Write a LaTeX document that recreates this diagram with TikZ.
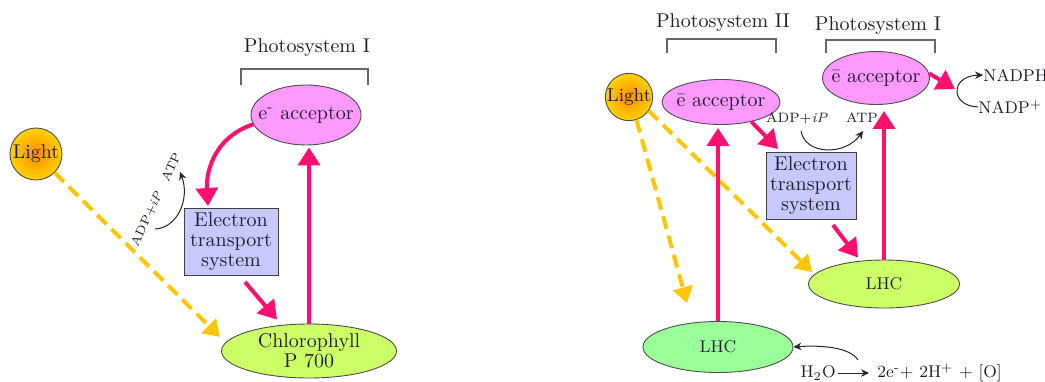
\documentclass[tikz,border=0pt]{standalone}
\usetikzlibrary{arrows.meta,calc,shapes.geometric}
\definecolor{pk}{HTML}{FF0F6E}
\definecolor{yl}{HTML}{FFC500}
\definecolor{mg}{HTML}{FF99FF}
\definecolor{lg}{HTML}{CCFF66}
\definecolor{gr}{HTML}{99FF99}
\definecolor{lv}{HTML}{C8C8FF}
\definecolor{tx}{HTML}{1E1E2E}
\definecolor{sunin}{HTML}{FF8C00}
\definecolor{sunout}{HTML}{FFD200}
\begin{document}
\begin{tikzpicture}[x=0.5pt,y=-0.5pt,
  every node/.style={text=tx, inner sep=0pt, font=\fontsize{10}{10}\selectfont},
  ell/.style={ellipse, draw=black!70, line width=0.45pt},
  acc/.style={ell, fill=mg},
  ets/.style={rectangle, draw=black!75, fill=lv, line width=0.5pt, align=center},
  sun/.style={circle, draw=black!70, line width=0.45pt, inner color=sunin, outer color=sunout},
  small/.style={font=\fontsize{8.5}{10}\selectfont},
  tiny/.style={font=\fontsize{6.8}{8}\selectfont},
  tinier/.style={font=\fontsize{6.2}{7}\selectfont},
  pkarrow/.style={draw=pk, line width=2pt, -{Triangle[length=9pt,width=11pt]}},
  lightarrow/.style={draw=yl, line width=2pt, dash pattern=on 6.5pt off 3.5pt, -{Triangle[length=8pt,width=10pt]}},
  thinarrow/.style={draw=black!85, line width=0.5pt, -{Stealth[length=4pt,width=3.8pt]}},
  bracket/.style={draw=black!60, line width=0.6pt},
]
\useasboundingbox (0,0) rectangle (1045,381);

% ---------------- left panel ----------------
\node[sun, minimum size=26pt] (light1) at (36,154) {Light};
\node (ps1L) at (307,48) {Photosystem I};
\draw[bracket] (241,85) -- (241,69) -- (368,69) -- (368,85);
\node[acc, minimum width=55pt, minimum height=30pt, label={center:e\textsuperscript{-} acceptor}] (acc1) at (306,115) {};
\node[ets, minimum width=47pt, minimum height=33.5pt] (ets1) at (231,242) {Electron\\transport\\system};
\node[ell, fill=lg, minimum width=87.5pt, minimum height=27pt, label={[align=center]center:Chlorophyll\\P 700}] (chl) at (309,351) {};
\node[tinier, rotate=65] (adp1) at (147,219) {ADP+\textit{iP}};
\node[tinier, rotate=65] (atp1) at (171,167) {ATP};
\coordinate (a1s) at (155,229);
\coordinate (a1e) at (180,172);
\draw[thinarrow] (a1s) .. controls (178,228) and (190,198) .. (a1e);

\coordinate (y1) at (220,337);
\draw[lightarrow] (light1.-45) -- (y1);
\draw[pkarrow] (acc1.190) .. controls (212,138) and (206,175) .. ([xshift=-11.5pt,yshift=1pt]ets1.north);
\draw[pkarrow] ([xshift=7pt,yshift=-3pt]ets1.south) -- ([xshift=-16pt,yshift=2pt]chl.north);
\draw[pkarrow, shorten >=1pt] (chl.north) -- (chl.north |- acc1.south);

% ---------------- right panel ----------------
\node (ps2) at (723,23) {Photosystem II};
\draw[bracket] (667,53) -- (667,39) -- (776,39) -- (776,53);
\node (ps1R) at (878,26) {Photosystem I};
\draw[bracket] (826,53) -- (826,40) -- (935,40) -- (935,53);
\node[sun, minimum size=23pt, font=\fontsize{9.3}{10}\selectfont] (light2) at (629,97) {Light};
\node[acc, minimum width=59pt, minimum height=22.5pt, label={center:\=e acceptor}] (acc2) at (721,102) {};
\node[acc, minimum width=53.5pt, minimum height=26.5pt, label={center:\=e acceptor}] (acc3) at (876,78) {};
\node[ets, minimum width=45pt, minimum height=33.5pt] (ets2) at (811,186) {Electron\\transport\\system};
\node[ell, fill=lg, minimum width=75.5pt, minimum height=24pt, label={[small]center:LHC}] (lhc1) at (884,284) {};
\node[ell, fill=gr, minimum width=75pt, minimum height=25.5pt, label={[small]center:LHC}] (lhc2) at (718,347) {};
\node[tiny] (adp2) at (797,118) {ADP+\textit{iP}};
\node[tiny] (atp2) at (862,118) {ATP};
\coordinate (a2s) at (801,131);
\coordinate (a2e) at (863,131);
\draw[thinarrow] (a2s) .. controls (805,155) and (845,156) .. (a2e);

\node[small, anchor=west] (nadph) at (983,75) {NADPH};
\node[small, anchor=west] (nadpp) at (978,107) {NADP$^+$};
\draw[thinarrow] (nadpp.west) .. controls (950,106) and (950,76) .. (nadph.west);
\coordinate (turn) at (955,89);
\draw[pkarrow] (acc3.5) -- (turn);

\node[small, anchor=east] (h2o) at (836,373) {H$_2$O};
\node[small, anchor=west] (prod) at (877,373) {2e\textsuperscript{-}+ 2H\textsuperscript{+} + [O]};
\draw[thinarrow, shorten <=1pt, shorten >=4pt] (h2o.east) -- (prod.west);
\coordinate (sp) at (858,360);
\draw[thinarrow] (sp) .. controls (850,347) and (820,345) .. (lhc2.east);

\coordinate (y2) at (687,303);
\coordinate (y3) at (812,272);
\draw[lightarrow] (light2.-72) -- (y2);
\draw[lightarrow] (light2.-35) -- (y3);

\draw[pkarrow] (acc2.-33) -- ([xshift=-16.5pt,yshift=1.5pt]ets2.north);
\draw[pkarrow] ([xshift=11pt,yshift=-2.5pt]ets2.south) -- ([xshift=-13pt,yshift=1pt]lhc1.north);
\draw[pkarrow, shorten >=1.5pt] (lhc2.north) -- (lhc2.north |- acc2.south);
\draw[pkarrow, shorten >=3pt] (lhc1.north) -- (lhc1.north |- acc3.south);
\end{tikzpicture}
\end{document}
